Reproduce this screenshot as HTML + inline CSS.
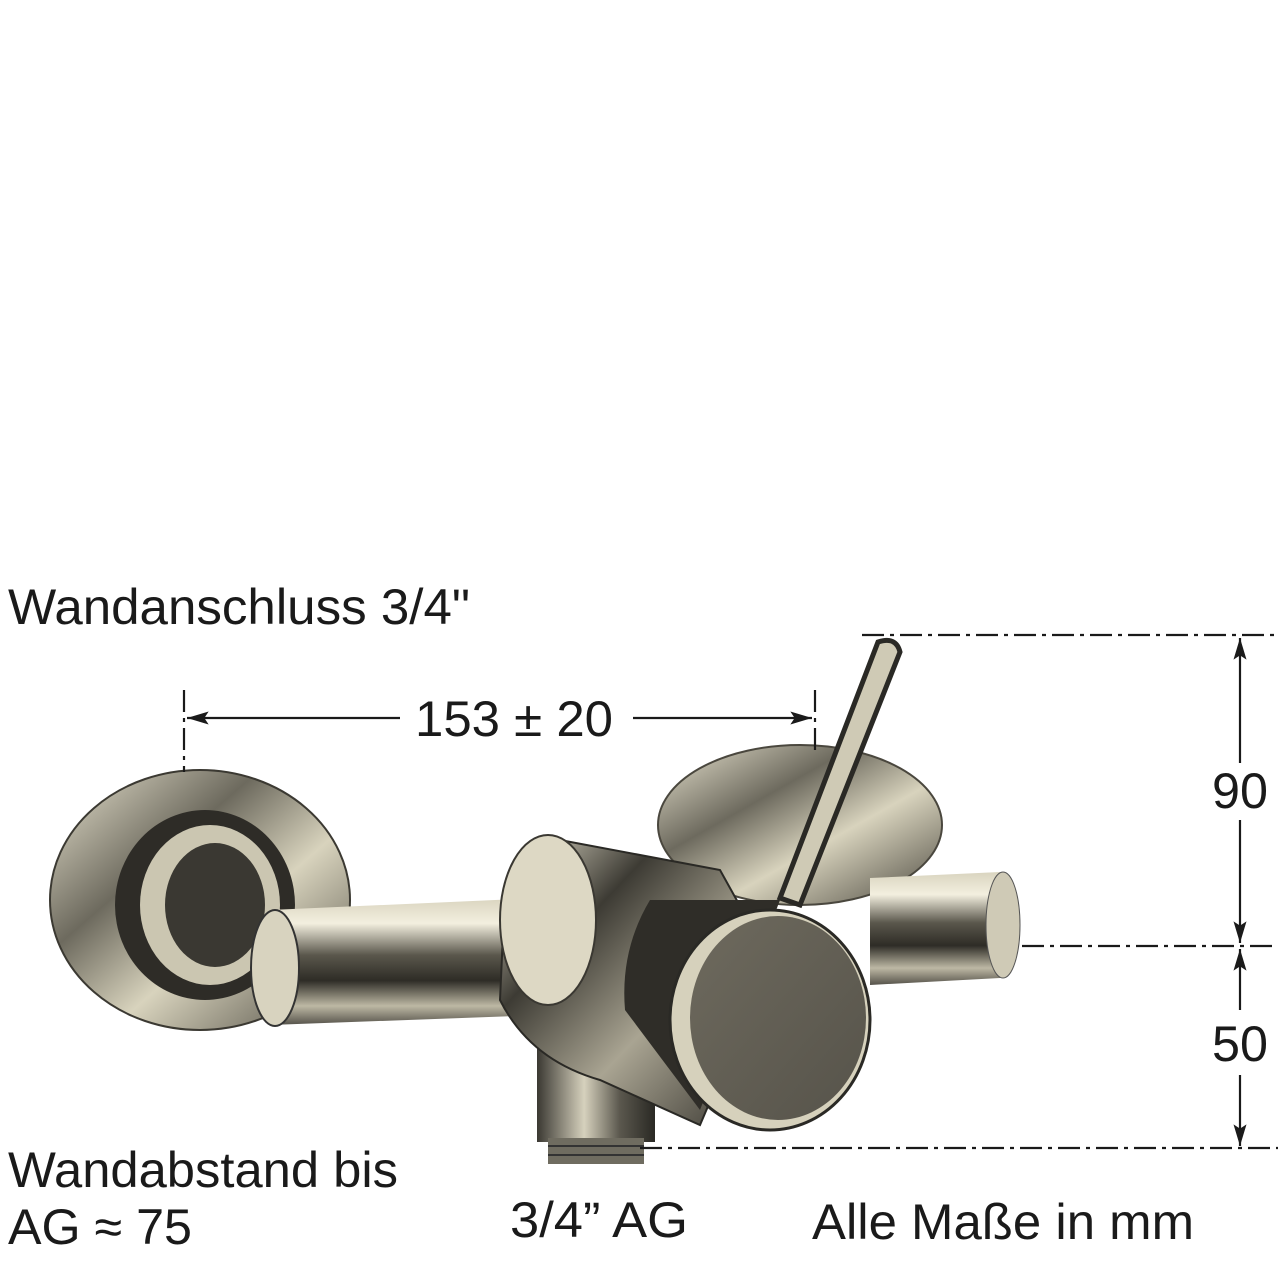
<!DOCTYPE html>
<html><head><meta charset="utf-8"><style>html,body{margin:0;padding:0;background:#fff}svg{display:block}</style></head>
<body>
<svg width="1280" height="1280" viewBox="0 0 1280 1280" xmlns="http://www.w3.org/2000/svg" font-family="Liberation Sans, sans-serif" fill="#1a1a1a">
<defs>
<linearGradient id="esc" x1="0" y1="0" x2="1" y2="1">
<stop offset="0" stop-color="#e9e4d0"/><stop offset="0.35" stop-color="#6d6a5e"/><stop offset="0.6" stop-color="#d8d3bd"/><stop offset="1" stop-color="#4a473e"/></linearGradient>
<linearGradient id="pipe" x1="0" y1="0" x2="0" y2="1">
<stop offset="0" stop-color="#d9d4bf"/><stop offset="0.2" stop-color="#f3efdf"/><stop offset="0.45" stop-color="#5a574c"/><stop offset="0.65" stop-color="#2e2c26"/><stop offset="0.85" stop-color="#bdb8a4"/><stop offset="1" stop-color="#55524a"/></linearGradient>
<linearGradient id="body" x1="0" y1="0" x2="1" y2="1">
<stop offset="0" stop-color="#ece7d3"/><stop offset="0.3" stop-color="#3d3b34"/><stop offset="0.6" stop-color="#a9a492"/><stop offset="1" stop-color="#2f2d28"/></linearGradient>
<linearGradient id="disk" x1="0" y1="0" x2="1" y2="1">
<stop offset="0" stop-color="#6e6a5e"/><stop offset="1" stop-color="#56534a"/></linearGradient>
<linearGradient id="spout" x1="0" y1="0" x2="1" y2="0">
<stop offset="0" stop-color="#3a3832"/><stop offset="0.4" stop-color="#d6d1bd"/><stop offset="0.7" stop-color="#5b584e"/><stop offset="1" stop-color="#2a2924"/></linearGradient>
<marker id="ah" viewBox="0 0 20 12" refX="20" refY="6" markerWidth="22" markerHeight="13" orient="auto-start-reverse" markerUnits="userSpaceOnUse"><path d="M0,0 L20,6 L0,12 L4,6 z" fill="#1a1a1a"/></marker>
</defs>

<ellipse cx="800" cy="825" rx="142" ry="80" fill="url(#esc)" stroke="#4a473e" stroke-width="2"/>
<path d="M870 878 L1000 872 Q1022 925 1000 978 L870 985 Z" fill="url(#pipe)"/>
<ellipse cx="1003" cy="925" rx="17" ry="53" fill="#cfcab6" stroke="#555" stroke-width="1"/>
<ellipse cx="200" cy="900" rx="150" ry="130" fill="url(#esc)" stroke="#3b3932" stroke-width="2"/>
<ellipse cx="205" cy="905" rx="90" ry="95" fill="#2e2c27"/>
<ellipse cx="210" cy="905" rx="70" ry="80" fill="#cbc6b1"/>
<ellipse cx="215" cy="905" rx="50" ry="62" fill="#3a3832"/>
<path d="M270 910 L540 898 Q562 955 545 1015 L270 1025 Z" fill="url(#pipe)"/>
<ellipse cx="275" cy="968" rx="24" ry="58" fill="#d8d3bf" stroke="#333" stroke-width="2"/>
<rect x="537" y="1030" width="118" height="112" fill="url(#spout)"/>
<rect x="548" y="1138" width="96" height="26" fill="#6f6c60"/>
<line x1="548" y1="1146" x2="644" y2="1146" stroke="#333" stroke-width="2"/>
<line x1="548" y1="1155" x2="644" y2="1155" stroke="#333" stroke-width="2"/>
<path d="M560 840 Q520 840 505 890 L500 1000 Q530 1060 600 1080 L700 1125 L770 960 L720 870 Z" fill="url(#body)" stroke="#2a2925" stroke-width="2"/>
<ellipse cx="548" cy="920" rx="48" ry="85" fill="#ddd8c4" stroke="#3a3832" stroke-width="2"/>
<path d="M650 900 Q620 950 625 1010 L700 1110 L780 900 Z" fill="#2f2d28"/>
<ellipse cx="770" cy="1020" rx="100" ry="110" fill="#d6d1bc" stroke="#2a2925" stroke-width="3"/>
<ellipse cx="778" cy="1018" rx="88" ry="102" fill="url(#disk)"/>
<path d="M878 642 Q896 636 900 652 L800 905 L780 898 Z" fill="#cfcab5" stroke="#2a2925" stroke-width="5"/>

<g stroke="#1a1a1a" stroke-width="2.2" fill="none">
<line x1="862" y1="635" x2="1278" y2="635" stroke-dasharray="22,6,4,6"/>
<line x1="1022" y1="946" x2="1278" y2="946" stroke-dasharray="22,6,4,6"/>
<line x1="640" y1="1148" x2="1278" y2="1148" stroke-dasharray="22,6,4,6"/>
<line x1="184" y1="690" x2="184" y2="772" stroke-dasharray="22,6,4,6"/>
<line x1="815" y1="690" x2="815" y2="752" stroke-dasharray="22,6,4,6"/>
<line x1="1240" y1="763" x2="1240" y2="638" marker-end="url(#ah)"/>
<line x1="1240" y1="820" x2="1240" y2="943" marker-end="url(#ah)"/>
<line x1="1240" y1="1010" x2="1240" y2="949" marker-end="url(#ah)"/>
<line x1="1240" y1="1075" x2="1240" y2="1146" marker-end="url(#ah)"/>
<line x1="400" y1="718" x2="187" y2="718" marker-end="url(#ah)"/>
<line x1="633" y1="718" x2="812" y2="718" marker-end="url(#ah)"/>
</g>

<g font-size="50">
<text x="8" y="624" textLength="462" lengthAdjust="spacingAndGlyphs">Wandanschluss 3/4"</text>
<text x="415" y="736" textLength="198" lengthAdjust="spacingAndGlyphs">153 ± 20</text>
<text x="1212" y="808" textLength="56" lengthAdjust="spacingAndGlyphs">90</text>
<text x="1212" y="1061" textLength="56" lengthAdjust="spacingAndGlyphs">50</text>
<text x="8" y="1187" textLength="390" lengthAdjust="spacingAndGlyphs">Wandabstand bis</text>
<text x="8" y="1244" textLength="184" lengthAdjust="spacingAndGlyphs">AG ≈ 75</text>
<text x="510" y="1237" textLength="178" lengthAdjust="spacingAndGlyphs">3/4” AG</text>
<text x="812" y="1239" textLength="382" lengthAdjust="spacingAndGlyphs">Alle Maße in mm</text>
</g>
</svg>
</body></html>
